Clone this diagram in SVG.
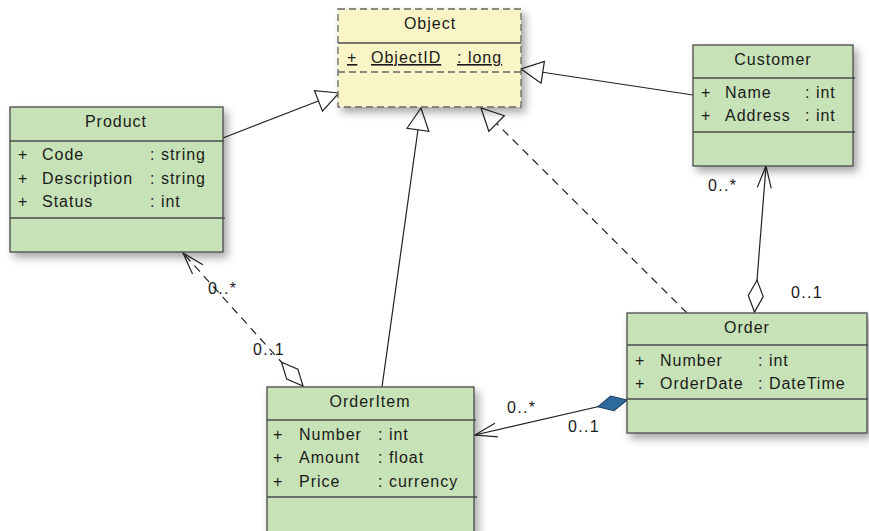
<svg xmlns="http://www.w3.org/2000/svg" width="869" height="531" viewBox="0 0 869 531">
<defs>
<filter id="sh" x="-20%" y="-20%" width="150%" height="150%">
<feDropShadow dx="4" dy="5" stdDeviation="4" flood-color="#000" flood-opacity="0.35"/>
</filter>
<marker id="tri" viewBox="-24 -13 26 26" markerWidth="26" markerHeight="26" refX="0" refY="0" orient="auto" markerUnits="userSpaceOnUse">
<path d="M0,0 L-22,-11 L-22,11 Z" fill="#fff" stroke="#222" stroke-width="1.2" stroke-linejoin="miter"/>
</marker>
<marker id="open" viewBox="-24 -10 26 20" markerWidth="26" markerHeight="20" refX="0" refY="0" orient="auto" markerUnits="userSpaceOnUse">
<path d="M-22,-7 L0,0 L-22,7" fill="none" stroke="#222" stroke-width="1.2"/>
</marker>
<marker id="dia" viewBox="-1 -9 34 18" markerWidth="34" markerHeight="18" refX="0" refY="0" orient="auto" markerUnits="userSpaceOnUse">
<path d="M0,0 L16,-7.5 L32,0 L16,7.5 Z" fill="#fff" stroke="#222" stroke-width="1.2"/>
</marker>
<marker id="diaf" viewBox="-1 -9 34 18" markerWidth="34" markerHeight="18" refX="0" refY="0" orient="auto" markerUnits="userSpaceOnUse">
<path d="M0,0 L15,-7.5 L30,0 L15,7.5 Z" fill="#2f6a9e" stroke="#1d3f5f" stroke-width="1"/>
</marker>
<style>
.box{fill:#c8e2b8;stroke:#4a4a4a;stroke-width:1.3}
.obj{fill:#faf5c6;stroke:#666;stroke-width:1.3;stroke-dasharray:7,4}
.div{stroke:#4a4a4a;stroke-width:1.3}
.divd{stroke:#666;stroke-width:1.3;stroke-dasharray:7,4}
text{font-family:"Liberation Sans",Arial,sans-serif;font-size:16px;fill:#1a1a1a;letter-spacing:1px}
.t{text-anchor:middle}
.ln{fill:none;stroke:#222;stroke-width:1.2}
.dash{stroke-dasharray:8,6}
.lbl{font-size:16px;letter-spacing:1.3px}
</style>
</defs>

<g id="connectors">
<path class="ln" d="M223,138 L339,93" marker-end="url(#tri)"/>
<path class="ln" d="M693,95 L521,69" marker-end="url(#tri)"/>
<path class="ln" d="M382,387 L421,108" marker-end="url(#tri)"/>
<path class="ln dash" d="M687,313 L481,108" marker-end="url(#tri)"/>
<path class="ln" d="M754.5,312 L766,166" marker-start="url(#dia)" marker-end="url(#open)"/>
<path class="ln dash" d="M303,386 L183,253" marker-start="url(#dia)" marker-end="url(#open)"/>
<path class="ln" d="M627,400 L475,435" marker-start="url(#diaf)" marker-end="url(#open)"/>
<text class="lbl" x="208" y="294">0..*</text>
<text class="lbl" x="253" y="355">0..1</text>
<text class="lbl" x="507" y="413">0..*</text>
<text class="lbl" x="568" y="432">0..1</text>
<text class="lbl" x="708" y="191">0..*</text>
<text class="lbl" x="791" y="298">0..1</text>
</g>

<g id="Object">
<rect class="obj" x="338" y="9" width="183" height="98" filter="url(#sh)"/>
<line class="div" x1="338" y1="43" x2="521" y2="43"/>
<line class="divd" x1="338" y1="72" x2="521" y2="72"/>
<text class="t" x="430" y="29">Object</text>
<text x="347" y="63" text-decoration="underline">+</text>
<text x="371" y="63" text-decoration="underline">ObjectID</text>
<text x="457" y="63" text-decoration="underline">: long</text>
</g>

<g id="Product">
<rect class="box" x="10" y="107" width="213" height="145" filter="url(#sh)"/>
<line class="div" x1="10" y1="141" x2="224" y2="141"/>
<line class="div" x1="10" y1="218" x2="225" y2="218"/>
<text class="t" x="116" y="127">Product</text>
<text x="18" y="160">+</text><text x="42" y="160">Code</text><text x="150" y="160">: string</text>
<text x="18" y="184">+</text><text x="42" y="184">Description</text><text x="150" y="184">: string</text>
<text x="18" y="207">+</text><text x="42" y="207">Status</text><text x="150" y="207">: int</text>
</g>

<g id="Customer">
<rect class="box" x="693" y="45" width="160" height="121" filter="url(#sh)"/>
<line class="div" x1="693" y1="78" x2="855" y2="78"/>
<line class="div" x1="693" y1="132" x2="855" y2="132"/>
<text class="t" x="773" y="65">Customer</text>
<text x="701" y="98">+</text><text x="725" y="98">Name</text><text x="805" y="98">: int</text>
<text x="701" y="121">+</text><text x="725" y="121">Address</text><text x="805" y="121">: int</text>
</g>

<g id="Order">
<rect class="box" x="627" y="313" width="240" height="120" filter="url(#sh)"/>
<line class="div" x1="627" y1="345" x2="868" y2="345"/>
<line class="div" x1="627" y1="399" x2="868" y2="399"/>
<text class="t" x="747" y="333">Order</text>
<text x="635" y="366">+</text><text x="660" y="366">Number</text><text x="758" y="366">: int</text>
<text x="635" y="389">+</text><text x="660" y="389">OrderDate</text><text x="758" y="389">: DateTime</text>
</g>

<g id="OrderItem">
<rect class="box" x="267" y="387" width="207" height="155" filter="url(#sh)"/>
<line class="div" x1="267" y1="420" x2="476" y2="420"/>
<line class="div" x1="267" y1="497" x2="477" y2="497"/>
<text class="t" x="370" y="407">OrderItem</text>
<text x="273" y="440">+</text><text x="299" y="440">Number</text><text x="378" y="440">: int</text>
<text x="273" y="463">+</text><text x="299" y="463">Amount</text><text x="378" y="463">: float</text>
<text x="273" y="487">+</text><text x="299" y="487">Price</text><text x="378" y="487">: currency</text>
</g>
</svg>
